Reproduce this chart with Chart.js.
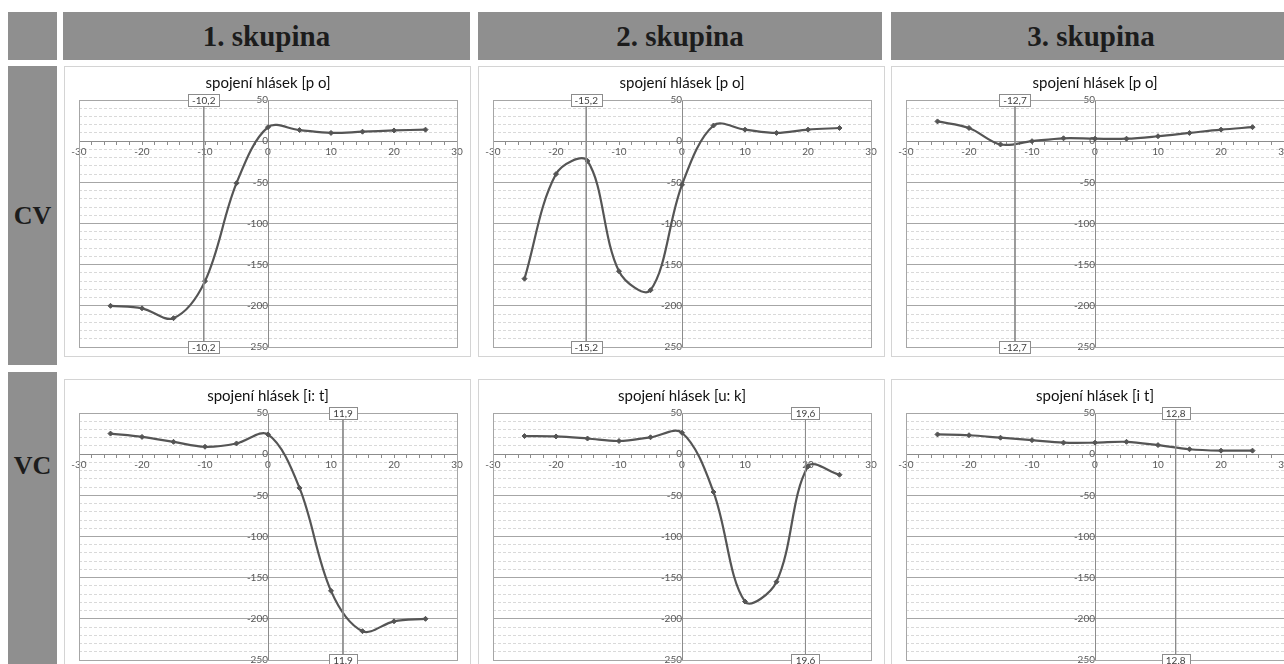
<!DOCTYPE html>
<html>
<head>
<meta charset="utf-8">
<script src="https://cdn.jsdelivr.net/npm/chart.js@4"></script>
<style>
  body { margin: 0; width: 1284px; height: 664px; overflow: hidden; position: relative; background: #fff; }
  .cell {
    position: absolute; background: #8f8f8f; display: flex; align-items: center; justify-content: center;
    font-family: "Liberation Serif", "DejaVu Serif", serif; font-weight: bold; color: #1c1c1c;
  }
  .head { top: 12px; height: 48px; font-size: 29px; }
  .rowlab { left: 8px; width: 49px; font-size: 26px; }
  .panel { position: absolute; width: 405px; height: 289px; border: 1px solid #d4d4d4; background: #fff; }
  .panel canvas { position: absolute; left: 0; top: 0; }
</style>
</head>
<body>

<div class="cell head" style="left:8px; width:49px;"></div>
<div class="cell head" style="left:63px; width:407px;">1. skupina</div>
<div class="cell head" style="left:478px; width:404px;">2. skupina</div>
<div class="cell head" style="left:891px; width:400px;">3. skupina</div>

<div class="cell rowlab" style="top:66px; height:299px;">CV</div>
<div class="cell rowlab" style="top:372px; height:300px; align-items:flex-start;"><span style="margin-top:79px;">VC</span></div>

<div id="panels"></div>

<script>
// x positions shared by every chart
var xValues = [-25, -20, -15, -10, -5, 0, 5, 10, 15, 20, 25];

// CV row
var cvGroup1 = [-200, -203, -215, -170, -51, 17, 13.5, 10, 11.5, 13, 14];
var cvGroup2 = [-167, -40, -24, -158, -181, -53, 19, 14, 10, 14, 16];
var cvGroup3 = [24, 16, -4, 0, 3.5, 3, 3, 6, 10, 14, 17];
// VC row
var vcGroup1 = [25, 21, 15, 9, 13, 24, -41, -166, -215, -203, -200];
var vcGroup2 = [22, 21.5, 19, 16, 20.5, 26, -46, -179, -155, -15, -25];
var vcGroup3 = [24, 23, 20, 17, 14, 14, 15, 11, 6, 4.3, 4.3];

var cvMarkers = [-10.2, -15.2, -12.7];
var vcMarkers = [11.9, 19.6, 12.8];

var cvTitles = ['spojení hlásek [p o]', 'spojení hlásek [p o]', 'spojení hlásek [p o]'];
var vcTitles = ['spojení hlásek [i: t]', 'spojení hlásek [u: k]', 'spojení hlásek [i t]'];

var yMin = -250, yMax = 50;
var xMin = -30, xMax = 30;

var panelLeft = [64, 478, 891];
var panelTop = [66, 379];

var tickFont = { family: 'Lato, "Open Sans", sans-serif', size: 10 };

// frame around the plot area
var plotFrame = {
  id: 'plotFrame',
  beforeDatasetsDraw: function(chart) {
    var a = chart.chartArea, ctx = chart.ctx;
    ctx.save();
    ctx.strokeStyle = '#a6a6a6';
    ctx.lineWidth = 1;
    ctx.strokeRect(Math.round(a.left) + 0.5, Math.round(a.top) + 0.5, Math.round(a.right - a.left), Math.round(a.bottom - a.top));
    ctx.restore();
  }
};

// boxed value labels at both ends of the marker line
var markerLabel = {
  id: 'markerLabel',
  afterDatasetsDraw: function(chart, args, opts) {
    if (opts.value == null) return;
    var ctx = chart.ctx;
    var px = chart.scales.x.getPixelForValue(opts.value);
    var text = String(opts.value).replace('.', ',');
    ctx.save();
    ctx.font = tickFont.size + 'px ' + tickFont.family;
    var w = Math.round(ctx.measureText(text).width) + 8, h = 12;
    [chart.chartArea.top, chart.chartArea.bottom].forEach(function(py) {
      var bx = Math.round(px - w / 2) + 0.5, by = Math.round(py - h / 2) + 0.5;
      ctx.fillStyle = '#fff';
      ctx.fillRect(bx, by, w, h);
      ctx.strokeStyle = '#8c8c8c';
      ctx.strokeRect(bx, by, w, h);
      ctx.fillStyle = '#404040';
      ctx.textAlign = 'center';
      ctx.textBaseline = 'middle';
      ctx.fillText(text, px, py + 0.5);
    });
    ctx.restore();
  }
};

function makeChart(left, top, title, ys, marker) {
  var panel = document.createElement('div');
  panel.className = 'panel';
  panel.style.left = left + 'px';
  panel.style.top = top + 'px';
  var canvas = document.createElement('canvas');
  canvas.width = 405; canvas.height = 289;
  panel.appendChild(canvas);
  document.getElementById('panels').appendChild(panel);

  var points = xValues.map(function(x, i) { return { x: x, y: ys[i] }; });

  new Chart(canvas, {
    type: 'scatter',
    data: {
      datasets: [
        { data: [{ x: marker, y: yMax }, { x: marker, y: yMin }], showLine: true, borderColor: '#8c8c8c', borderWidth: 1, pointRadius: 0, tension: 0 },
        { data: points, showLine: true, borderColor: '#555555', borderWidth: 2.2, tension: 0.35,
          pointStyle: 'rectRot', pointRadius: 2.5, pointBackgroundColor: '#555555', pointBorderColor: '#555555', pointBorderWidth: 1 }
      ]
    },
    options: {
      responsive: false, animation: false,
      layout: { padding: { left: 14, right: 13, top: 0, bottom: 9 } },
      plugins: {
        legend: { display: false },
        tooltip: { enabled: false },
        title: { display: true, text: title, color: '#111111', font: { family: 'Lato, "Open Sans", sans-serif', size: 15, weight: 'normal' }, padding: { top: 7, bottom: 8 } },
        markerLabel: { value: marker }
      },
      scales: {
        x: {
          type: 'linear', position: { y: 0 }, min: xMin, max: xMax,
          ticks: { stepSize: 2, autoSkip: false, maxRotation: 0, color: '#595959', font: tickFont, padding: 2,
            callback: function(v) { return v % 10 === 0 ? String(v) : ''; } },
          grid: { drawOnChartArea: false, tickLength: 3, tickColor: '#8c8c8c' },
          border: { color: '#8c8c8c' }
        },
        y2: {
          type: 'linear', position: { x: 0 }, min: yMin, max: yMax,
          ticks: { stepSize: 10, display: false },
          grid: { drawTicks: false, color: function(c) { return c.tick.value % 50 === 0 ? 'rgba(0,0,0,0)' : '#d9d9d9'; } },
          border: { display: false, dash: [3, 2] }
        },
        y: {
          type: 'linear', position: { x: 0 }, min: yMin, max: yMax,
          ticks: { stepSize: 50, color: '#595959', font: tickFont, padding: 3 },
          grid: { drawTicks: false, color: '#a6a6a6' },
          border: { color: '#8c8c8c' }
        }
      }
    },
    plugins: [plotFrame, markerLabel]
  });
}

var cvData = [cvGroup1, cvGroup2, cvGroup3];
var vcData = [vcGroup1, vcGroup2, vcGroup3];
for (var i = 0; i < 3; i++) {
  makeChart(panelLeft[i], panelTop[0], cvTitles[i], cvData[i], cvMarkers[i]);
  makeChart(panelLeft[i], panelTop[1], vcTitles[i], vcData[i], vcMarkers[i]);
}
</script>
</body>
</html>
